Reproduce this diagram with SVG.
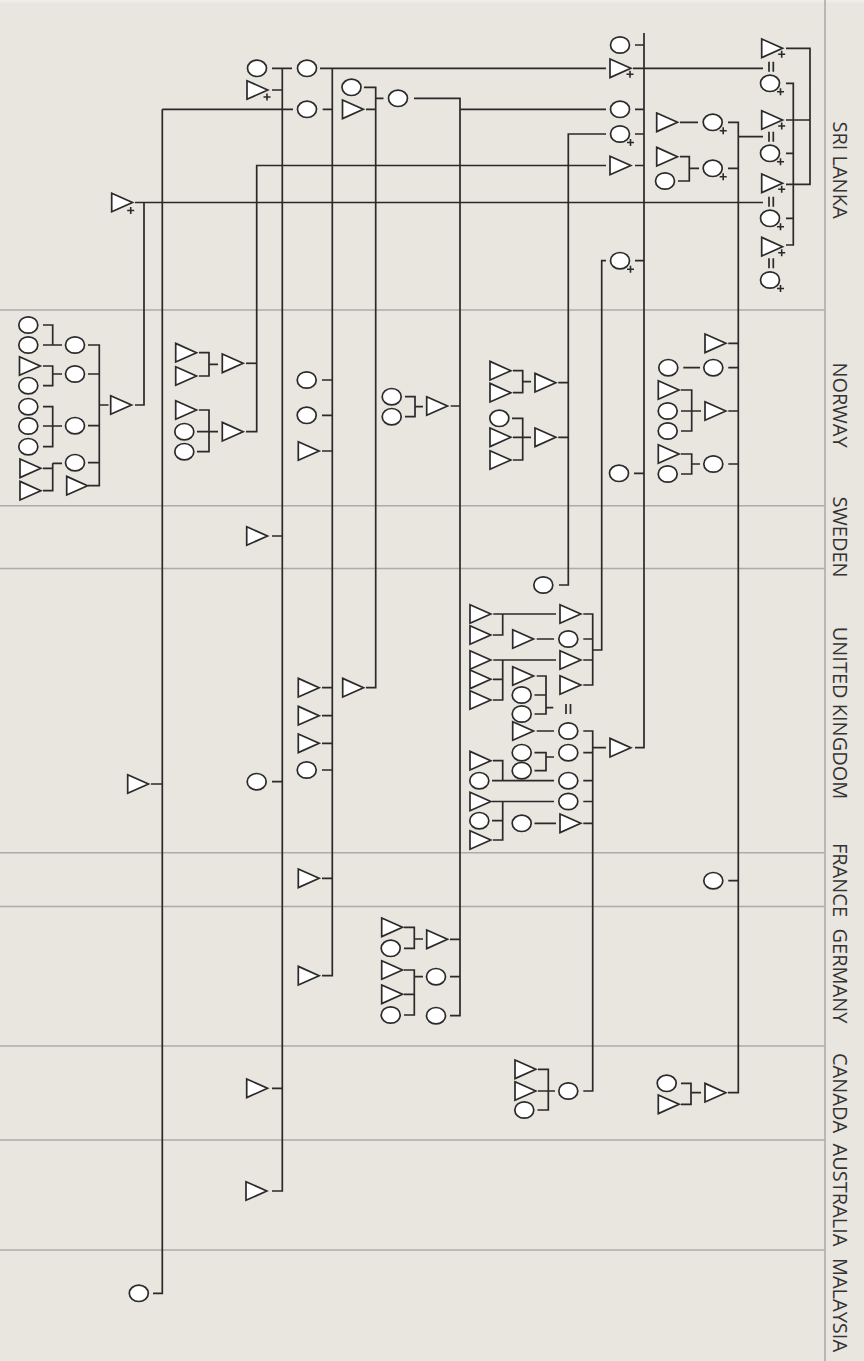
<svg xmlns="http://www.w3.org/2000/svg" xmlns:xlink="http://www.w3.org/1999/xlink" width="864" height="1361" viewBox="0 0 864 1361">
<style>
.ln{fill:none;stroke:#2a2a2a;stroke-width:1.7}
.grid{fill:none;stroke:#acacac;stroke-width:1.6}
.lbl{font-family:"Open Sans","DejaVu Sans",sans-serif;font-size:20px;fill:#333;text-anchor:middle}
</style>
<defs>
<polygon id="t" points="-10,-9.3 10.8,0 -10,9.3" fill="#fff" stroke="#2a2a2a" stroke-width="1.7"/>
<ellipse id="c" rx="9.5" ry="8.2" fill="#fff" stroke="#2a2a2a" stroke-width="1.7"/>
<path id="p" d="M-3.5,0H3.5M0,-3.5V3.5" fill="none" stroke="#2a2a2a" stroke-width="1.6"/>
</defs>
<rect x="0" y="0" width="864" height="1361" fill="#e9e5df"/>
<rect x="0" y="0" width="864" height="2.5" fill="#efede9"/>
<g id="grid" class="grid">
<path d="M825,0V1361"/>
<path d="M0,310H825M0,505.7H825M0,568.5H825M0,852.7H825M0,906.5H825M0,1046H825M0,1140H825M0,1250H825"/>
</g>
<g id="labels" class="lbl">
<text transform="translate(832.5,170) rotate(90)">SRI LANKA</text>
<text transform="translate(832.5,405) rotate(90)">NORWAY</text>
<text transform="translate(832.5,537) rotate(90)">SWEDEN</text>
<text transform="translate(832.5,713) rotate(90)">UNITED KINGDOM</text>
<text transform="translate(832.5,880) rotate(90)">FRANCE</text>
<text transform="translate(832.5,976) rotate(90)">GERMANY</text>
<text transform="translate(832.5,1093) rotate(90)">CANADA</text>
<text transform="translate(832.5,1195) rotate(90)">AUSTRALIA</text>
<text transform="translate(832.5,1305) rotate(90)">MALAYSIA</text>
</g>
<g id="connectors" class="ln">
<path d="M786,48.3H810V184.3H786M786,120H810M786,83.3H793.3V245H786M786,153.3H793.3M786,218.3H793.3"/>
<path d="M633,68.3H763M738.3,136.7H763M135,202.5H763"/>
<path d="M680,122.3H698M728,122.3H738.3V1092.7H728M680,156.7H689.3V181H678M689.3,168.3H699M728,168.3H738.3"/>
<path d="M644,33V747.7H635M635,45H644M635,109.3H644M635,134H644M635,165.5H644M635,260.7H644M634,473.3H644"/>
<path d="M606,68.3H320M332.3,68.3V975.7H322M292,68.3H272M282.3,68.3V1191H272M606,109.3H460M606,134H568.3V585H559M606,165.5H256.7V431.7H246M144,202.5V405H135M606,260.7H601.7V650H592.7"/>
<path d="M322.7,109.3H332.3M162.3,109.3H293M162.3,109.3V1293.3H153M151,784H162.3"/>
<path d="M272,90H282.3M272,536H282.3M272,781.7H282.3M272,1088.3H282.3"/>
<path d="M322,380H332.3M322,415.3H332.3M322,451H332.3M322,687.7H332.3M322,715.7H332.3M322,743.3H332.3M322,770H332.3M322,878.3H332.3"/>
<path d="M246,363.3H256.7"/>
<path d="M99.3,405H108.5M88,345H99.3V485.7H88M88,374H99.3M88,425.7H99.3M88,462.7H99.3"/>
<path d="M43,325H52.7V345H43M52.7,345H62M43,366H52.7V385.7H43M52.7,374H62M43,406.7H52.7V446.7H43M43,426H62M52.7,463.3V490.7H43M43,468.3H52.7M52.7,463.3H62"/>
<path d="M199,352.7H209V376H199M209,364.3H218M199,410H209V451.7H197M197,431.7H218"/>
<path d="M414,98.3H460V1015.7H450M450.7,406H460M405,396.7H415V416.7H405M415,406.7H423"/>
<path d="M450,939.3H460M450,976.7H460M404,927.3H414.3V948.3H404M414.3,939H423M404,970H414.3V1015H404M404,994.3H414.3M414.3,976.7H423"/>
<path d="M364,87.3H375.7V687.7H366M366,109.3H375.7M375.7,98.3H383.5"/>
<path d="M558.3,382.7H568.3M558.3,437.3H568.3M513,370.7H522.7V392.7H513M522.7,381.7H531M512,418.3H522.7V460H513M513,437.3H531"/>
<path d="M728.3,343.3H738.3M728.3,367.7H738.3M728.3,411H738.3M728.3,464H738.3M728.3,880.7H738.3M683.3,367.7H700M681,390H691.7V431H681M681,411H701M681,454H691.7V474H681M691.7,464H700"/>
<path d="M583.3,614H592.7V685H583.3M583.3,639H592.7M583.3,660H592.7M493.3,614H556M502.7,614V635H493M536.7,639H554M493.3,660H556M502.7,660V700H493M493,679.3H502.7"/>
<path d="M536.7,676H546V714H534.5M534.5,695H546M546,707.7H553.3"/>
<path d="M583.3,731H592.7V1091H583.3M592.7,747.7H606M583.3,752.7H592.7M583.3,780.7H592.7M583.3,801.5H592.7M583.3,823.3H592.7M536.7,731H554M534.5,752.7H546V770.7H534.5M546,757H554M492,780.7H554M493,760.7H502.7V780.7M492,801.5H554M502.7,801.5V840H493M492,820.7H502.7M534.5,823.3H556"/>
<path d="M538,1069.3H548.3V1110H537.5M538,1091H555M681,1083.3H691V1104.3H681M691,1092.7H701"/>
</g>
<g id="marks" class="ln">
<path d="M769,61.7V71.7M773.3,61.7V71.7M769,131.7V141.7M773.3,131.7V141.7M769,196.7V206.7M773.3,196.7V206.7M769,258.3V268.3M773.3,258.3V268.3"/>
<path d="M566,704V714M570.5,704V714"/>
</g>
<g id="nodes">
<g id="sl-a1" transform="translate(771.7,48.3)"><use href="#t"/><use href="#p" x="10" y="6"/></g>
<g id="sl-a2" transform="translate(770,83.3)"><use href="#c"/><use href="#p" x="10.5" y="8.5"/></g>
<g id="sl-a3" transform="translate(771.7,120)"><use href="#t"/><use href="#p" x="10" y="6"/></g>
<g id="sl-a4" transform="translate(770,153.3)"><use href="#c"/><use href="#p" x="10.5" y="8.5"/></g>
<g id="sl-a5" transform="translate(771.7,183.3)"><use href="#t"/><use href="#p" x="10" y="6"/></g>
<g id="sl-a6" transform="translate(770,218.3)"><use href="#c"/><use href="#p" x="10.5" y="8.5"/></g>
<g id="sl-a7" transform="translate(771.7,246.7)"><use href="#t"/><use href="#p" x="10" y="6"/></g>
<g id="sl-a8" transform="translate(770,280)"><use href="#c"/><use href="#p" x="10.5" y="8.5"/></g>
<g id="sl-m1" transform="translate(666.7,122.3)"><use href="#t"/></g>
<g id="sl-m2" transform="translate(712.7,122.3)"><use href="#c"/><use href="#p" x="10.5" y="8.5"/></g>
<g id="sl-m3" transform="translate(666.7,156.7)"><use href="#t"/></g>
<g id="sl-m4" transform="translate(665,181)"><use href="#c"/></g>
<g id="sl-m5" transform="translate(712.7,168.3)"><use href="#c"/><use href="#p" x="10.5" y="8.5"/></g>
<g id="sl-c1" transform="translate(620,45)"><use href="#c"/></g>
<g id="sl-c2" transform="translate(620,68.3)"><use href="#t"/><use href="#p" x="10" y="6"/></g>
<g id="sl-c3" transform="translate(620,109.3)"><use href="#c"/></g>
<g id="sl-c4" transform="translate(620,134)"><use href="#c"/><use href="#p" x="10.5" y="8.5"/></g>
<g id="sl-c5" transform="translate(620,165.5)"><use href="#t"/></g>
<g id="sl-c6" transform="translate(620,260.7)"><use href="#c"/><use href="#p" x="10.5" y="8.5"/></g>
<g id="sl-d1" transform="translate(398,98.3)"><use href="#c"/></g>
<g id="sl-d2" transform="translate(351.5,87.3)"><use href="#c"/></g>
<g id="sl-d3" transform="translate(352.5,109.3)"><use href="#t"/></g>
<g id="sl-d4" transform="translate(307,68.3)"><use href="#c"/></g>
<g id="sl-d5" transform="translate(307,109.3)"><use href="#c"/></g>
<g id="sl-d6" transform="translate(257,68.3)"><use href="#c"/></g>
<g id="sl-d7" transform="translate(257,90)"><use href="#t"/><use href="#p" x="10" y="7"/></g>
<g id="sl-d8" transform="translate(121.7,202.5)"><use href="#t"/><use href="#p" x="9" y="8"/></g>
<g id="no-a" transform="translate(120.7,405)"><use href="#t"/></g>
<g id="no-a1" transform="translate(75,345)"><use href="#c"/></g>
<g id="no-a2" transform="translate(75,374)"><use href="#c"/></g>
<g id="no-a3" transform="translate(75,425.7)"><use href="#c"/></g>
<g id="no-a4" transform="translate(75,462.7)"><use href="#c"/></g>
<g id="no-a5" transform="translate(76.7,485.7)"><use href="#t"/></g>
<g id="no-g1" transform="translate(28.3,325)"><use href="#c"/></g>
<g id="no-g2" transform="translate(28.3,345)"><use href="#c"/></g>
<g id="no-g3" transform="translate(29.5,366)"><use href="#t"/></g>
<g id="no-g4" transform="translate(28.3,385.7)"><use href="#c"/></g>
<g id="no-g5" transform="translate(28.3,406.7)"><use href="#c"/></g>
<g id="no-g6" transform="translate(28.3,426)"><use href="#c"/></g>
<g id="no-g7" transform="translate(28.3,446.7)"><use href="#c"/></g>
<g id="no-g8" transform="translate(30,468.3)"><use href="#t"/></g>
<g id="no-g9" transform="translate(30,490.7)"><use href="#t"/></g>
<g id="no-b1" transform="translate(232.3,363.3)"><use href="#t"/></g>
<g id="no-b2" transform="translate(232.3,431.7)"><use href="#t"/></g>
<g id="no-b3" transform="translate(185.7,352.7)"><use href="#t"/></g>
<g id="no-b4" transform="translate(185.7,376)"><use href="#t"/></g>
<g id="no-b5" transform="translate(185.7,410)"><use href="#t"/></g>
<g id="no-b6" transform="translate(184.3,431.7)"><use href="#c"/></g>
<g id="no-b7" transform="translate(184.3,451.7)"><use href="#c"/></g>
<g id="no-c1" transform="translate(306.7,380)"><use href="#c"/></g>
<g id="no-c2" transform="translate(306.7,415.3)"><use href="#c"/></g>
<g id="no-c3" transform="translate(308.3,451)"><use href="#t"/></g>
<g id="no-d1" transform="translate(436.7,406)"><use href="#t"/></g>
<g id="no-d2" transform="translate(391.7,396.7)"><use href="#c"/></g>
<g id="no-d3" transform="translate(391.7,416.7)"><use href="#c"/></g>
<g id="no-e1" transform="translate(545,382.7)"><use href="#t"/></g>
<g id="no-e2" transform="translate(545,437.3)"><use href="#t"/></g>
<g id="no-e3" transform="translate(500,370.7)"><use href="#t"/></g>
<g id="no-e4" transform="translate(500,392.7)"><use href="#t"/></g>
<g id="no-e5" transform="translate(499.3,418.3)"><use href="#c"/></g>
<g id="no-e6" transform="translate(500,437.3)"><use href="#t"/></g>
<g id="no-e7" transform="translate(500,460)"><use href="#t"/></g>
<g id="no-f1" transform="translate(619,473.3)"><use href="#c"/></g>
<g id="no-h1" transform="translate(715,343.3)"><use href="#t"/></g>
<g id="no-h2" transform="translate(713.3,367.7)"><use href="#c"/></g>
<g id="no-h3" transform="translate(668.3,367.7)"><use href="#c"/></g>
<g id="no-h4" transform="translate(715,411)"><use href="#t"/></g>
<g id="no-h5" transform="translate(668.3,390)"><use href="#t"/></g>
<g id="no-h6" transform="translate(667.7,411)"><use href="#c"/></g>
<g id="no-h7" transform="translate(667.7,431)"><use href="#c"/></g>
<g id="no-h8" transform="translate(713.3,464)"><use href="#c"/></g>
<g id="no-h9" transform="translate(668.3,454)"><use href="#t"/></g>
<g id="no-h10" transform="translate(667.7,474)"><use href="#c"/></g>
<g id="se-1" transform="translate(256.7,536)"><use href="#t"/></g>
<g id="se-2" transform="translate(543.3,585)"><use href="#c"/></g>
<g id="uk-1" transform="translate(137.7,784)"><use href="#t"/></g>
<g id="uk-2" transform="translate(256.7,781.7)"><use href="#c"/></g>
<g id="uk-3" transform="translate(308.3,687.7)"><use href="#t"/></g>
<g id="uk-4" transform="translate(308.3,715.7)"><use href="#t"/></g>
<g id="uk-5" transform="translate(308.3,743.3)"><use href="#t"/></g>
<g id="uk-6" transform="translate(306.7,770)"><use href="#c"/></g>
<g id="uk-7" transform="translate(352.7,687.7)"><use href="#t"/></g>
<g id="uk-r1" transform="translate(570,614)"><use href="#t"/></g>
<g id="uk-r2" transform="translate(568.3,639)"><use href="#c"/></g>
<g id="uk-r3" transform="translate(570,660)"><use href="#t"/></g>
<g id="uk-r4" transform="translate(570,685)"><use href="#t"/></g>
<g id="uk-l1" transform="translate(480,614)"><use href="#t"/></g>
<g id="uk-l2" transform="translate(480,635)"><use href="#t"/></g>
<g id="uk-m1" transform="translate(522.7,639)"><use href="#t"/></g>
<g id="uk-l3" transform="translate(480,660)"><use href="#t"/></g>
<g id="uk-l4" transform="translate(480,679.3)"><use href="#t"/></g>
<g id="uk-l5" transform="translate(480,700)"><use href="#t"/></g>
<g id="uk-m2" transform="translate(522.7,676)"><use href="#t"/></g>
<g id="uk-m3" transform="translate(521.7,695)"><use href="#c"/></g>
<g id="uk-m4" transform="translate(521.7,714)"><use href="#c"/></g>
<g id="uk-r5" transform="translate(568.3,731)"><use href="#c"/></g>
<g id="uk-m5" transform="translate(522.7,731)"><use href="#t"/></g>
<g id="uk-r6" transform="translate(568.3,752.7)"><use href="#c"/></g>
<g id="uk-m6" transform="translate(521.7,752.7)"><use href="#c"/></g>
<g id="uk-m7" transform="translate(521.7,770.7)"><use href="#c"/></g>
<g id="uk-p" transform="translate(620,747.7)"><use href="#t"/></g>
<g id="uk-r7" transform="translate(568.3,780.7)"><use href="#c"/></g>
<g id="uk-l6" transform="translate(480,760.7)"><use href="#t"/></g>
<g id="uk-l7" transform="translate(479.3,780.7)"><use href="#c"/></g>
<g id="uk-r8" transform="translate(568.3,801.5)"><use href="#c"/></g>
<g id="uk-l8" transform="translate(480,801.5)"><use href="#t"/></g>
<g id="uk-l9" transform="translate(479.3,820.7)"><use href="#c"/></g>
<g id="uk-l10" transform="translate(480,840)"><use href="#t"/></g>
<g id="uk-r9" transform="translate(570,823.3)"><use href="#t"/></g>
<g id="uk-m8" transform="translate(521.7,823.3)"><use href="#c"/></g>
<g id="fr-1" transform="translate(308.3,878.3)"><use href="#t"/></g>
<g id="fr-2" transform="translate(713.3,880.7)"><use href="#c"/></g>
<g id="de-1" transform="translate(308.3,975.7)"><use href="#t"/></g>
<g id="de-2" transform="translate(436.7,939.3)"><use href="#t"/></g>
<g id="de-3" transform="translate(391.7,927.3)"><use href="#t"/></g>
<g id="de-4" transform="translate(390.7,948.3)"><use href="#c"/></g>
<g id="de-5" transform="translate(436,976.7)"><use href="#c"/></g>
<g id="de-6" transform="translate(391.7,970)"><use href="#t"/></g>
<g id="de-7" transform="translate(391.7,994.3)"><use href="#t"/></g>
<g id="de-8" transform="translate(390.7,1015)"><use href="#c"/></g>
<g id="de-9" transform="translate(436,1015.7)"><use href="#c"/></g>
<g id="ca-1" transform="translate(256.7,1088.3)"><use href="#t"/></g>
<g id="ca-2" transform="translate(568.3,1091)"><use href="#c"/></g>
<g id="ca-3" transform="translate(525,1069.3)"><use href="#t"/></g>
<g id="ca-4" transform="translate(525,1091)"><use href="#t"/></g>
<g id="ca-5" transform="translate(524.3,1110)"><use href="#c"/></g>
<g id="ca-6" transform="translate(715,1092.7)"><use href="#t"/></g>
<g id="ca-7" transform="translate(666.7,1083.3)"><use href="#c"/></g>
<g id="ca-8" transform="translate(668.3,1104.3)"><use href="#t"/></g>
<g id="au-1" transform="translate(256,1191)"><use href="#t"/></g>
<g id="my-1" transform="translate(138.8,1293.3)"><use href="#c"/></g>
</g>
</svg>
